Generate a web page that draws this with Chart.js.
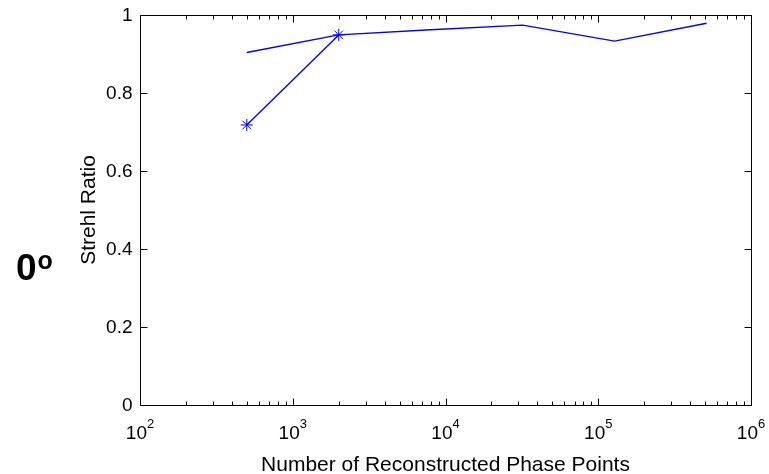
<!DOCTYPE html>
<html>
<head>
<meta charset="utf-8">
<script src="https://cdn.jsdelivr.net/npm/chart.js@4/dist/chart.umd.min.js"></script>
<style>
  html, body { margin: 0; padding: 0; background: #ffffff; }
  canvas { display: block; }
</style>
</head>
<body>
<canvas id="strehl" width="769" height="474"></canvas>
<script>
// Number of reconstructed phase points (x, log scale)
const phasePoints = [500, 2000, 8000, 32000, 128000, 512000];
// Strehl ratio, starred series (only the first two sizes)
const strehlStarred = [0.718, 0.949];
// Strehl ratio, plain line series
const strehlLine = [0.904, 0.949, 0.962, 0.974, 0.933, 0.979];

// Axis ticks and labels
const xDecades = [100, 1000, 10000, 100000, 1000000];
const xExponents = ['2', '3', '4', '5', '6'];
const xMinorMultipliers = [2, 3, 4, 5, 6, 7, 8, 9];
const yTicks = [0, 0.2, 0.4, 0.6, 0.8, 1];
const yTickLabels = ['0', '0.2', '0.4', '0.6', '0.8', '1'];

const xTitle = 'Number of Reconstructed Phase Points';
const yTitle = 'Strehl Ratio';
const panelText = '0';
const panelSup = 'o';

const FONT = '"Liberation Sans", Arial, Helvetica, sans-serif';

// Draws the boxed axes with inward ticks, tick labels and titles
const boxedAxes = {
  id: 'boxedAxes',
  afterDraw(chart) {
    const ctx = chart.ctx;
    const a = chart.chartArea;
    const xs = chart.scales.x, ys = chart.scales.y;
    const L = Math.round(a.left) + 0.5, R = Math.round(a.right) + 0.5;
    const T = Math.round(a.top) + 0.5, B = Math.round(a.bottom) + 0.5;
    ctx.save();
    ctx.strokeStyle = '#000';
    ctx.lineWidth = 1;
    ctx.beginPath();
    ctx.rect(L, T, R - L, B - T);
    ctx.stroke();

    const major = 7, minor = 4;
    ctx.beginPath();
    // x ticks (bottom and top)
    xDecades.forEach((d, i) => {
      const px = Math.round(xs.getPixelForValue(d)) + 0.5;
      ctx.moveTo(px, B); ctx.lineTo(px, B - major);
      ctx.moveTo(px, T); ctx.lineTo(px, T + major);
      if (i < xDecades.length - 1) {
        xMinorMultipliers.forEach(m => {
          const mx = Math.round(xs.getPixelForValue(d * m)) + 0.5;
          ctx.moveTo(mx, B); ctx.lineTo(mx, B - minor);
          ctx.moveTo(mx, T); ctx.lineTo(mx, T + minor);
        });
      }
    });
    // y ticks (left and right)
    yTicks.forEach(v => {
      const py = Math.round(ys.getPixelForValue(v)) + 0.5;
      ctx.moveTo(L, py); ctx.lineTo(L + major, py);
      ctx.moveTo(R, py); ctx.lineTo(R - major, py);
    });
    ctx.stroke();

    ctx.fillStyle = '#000';
    // y tick labels
    ctx.font = '19px ' + FONT;
    ctx.textAlign = 'right';
    ctx.textBaseline = 'middle';
    yTicks.forEach((v, i) => {
      ctx.fillText(yTickLabels[i], L - 8, ys.getPixelForValue(v) + 1);
    });

    // x tick labels: "10" with superscript exponent
    ctx.textBaseline = 'alphabetic';
    ctx.textAlign = 'left';
    xDecades.forEach((d, i) => {
      const px = xs.getPixelForValue(d);
      ctx.font = '19px ' + FONT;
      const wb = ctx.measureText('10').width;
      ctx.font = '13px ' + FONT;
      const we = ctx.measureText(xExponents[i]).width;
      const x0 = px - (wb + we) / 2;
      ctx.font = '19px ' + FONT;
      ctx.fillText('10', x0, 439);
      ctx.font = '13px ' + FONT;
      ctx.fillText(xExponents[i], x0 + wb, 428);
    });

    // axis titles
    ctx.font = '21px ' + FONT;
    ctx.textAlign = 'center';
    ctx.textBaseline = 'alphabetic';
    ctx.fillText(xTitle, (a.left + a.right) / 2, 471);
    ctx.save();
    ctx.translate(95, (a.top + a.bottom) / 2);
    ctx.rotate(-Math.PI / 2);
    ctx.fillText(yTitle, 0, 0);
    ctx.restore();

    // panel label "0" with raised "o"
    ctx.textAlign = 'left';
    ctx.font = 'bold 37px ' + FONT;
    ctx.fillText(panelText, 16, 280);
    const w0 = ctx.measureText(panelText).width;
    ctx.font = 'bold 25px ' + FONT;
    ctx.fillText(panelSup, 16 + w0 + 1, 269);
    ctx.restore();
  }
};

new Chart(document.getElementById('strehl'), {
  type: 'line',
  data: {
    datasets: [
      {
        label: 'starred',
        data: strehlStarred.map((v, i) => ({ x: phasePoints[i], y: v })),
        borderColor: '#0000ff',
        borderWidth: 1.4,
        pointStyle: 'star',
        pointRadius: 6,
        pointBorderColor: '#0000ff',
        pointBorderWidth: 1,
        pointBackgroundColor: '#0000ff',
        fill: false,
        tension: 0
      },
      {
        label: 'line',
        data: strehlLine.map((v, i) => ({ x: phasePoints[i], y: v })),
        borderColor: '#0000ff',
        borderWidth: 1.4,
        pointRadius: 0,
        fill: false,
        tension: 0
      }
    ]
  },
  options: {
    responsive: false,
    animation: false,
    devicePixelRatio: 1,
    layout: { padding: { left: 140, right: 18, top: 15, bottom: 69 } },
    plugins: { legend: { display: false }, tooltip: { enabled: false } },
    scales: {
      x: { type: 'logarithmic', min: 100, max: 1000000, display: false },
      y: { type: 'linear', min: 0, max: 1, display: false }
    }
  },
  plugins: [boxedAxes]
});
</script>
</body>
</html>
